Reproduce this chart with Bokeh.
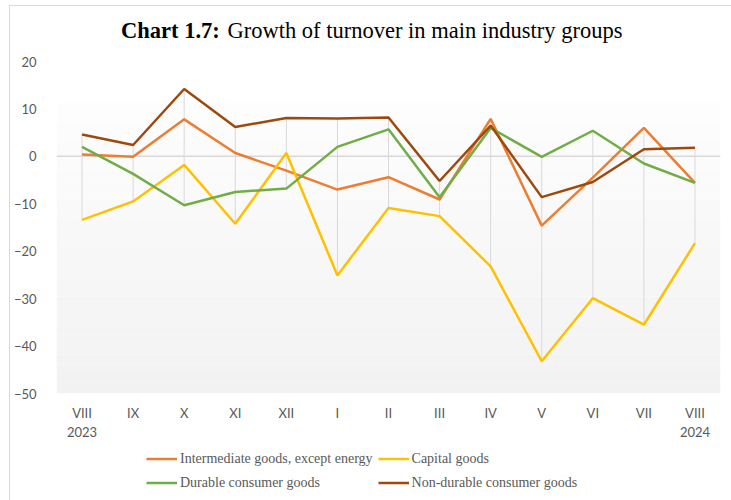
import numpy as np
from bokeh.plotting import figure
from bokeh.layouts import column
from bokeh.models import (Legend, LegendItem, Span, BoxAnnotation, Label,
                          FixedTicker, Range1d)
from bokeh.embed import file_html
from bokeh.resources import INLINE

months = ["VIII\n2023", "IX", "X", "XI", "XII", "I", "II", "III", "IV", "V",
          "VI", "VII", "VIII\n2024"]
intermediate = [0.4, -0.1, 7.8, 0.7, -3.0, -7.0, -4.4, -9.1, 7.9, -14.6, -4.5, 6.0, -5.6]
capital = [-13.4, -9.5, -1.8, -14.2, 0.7, -25.1, -10.9, -12.6, -23.2, -43.2, -29.9, -35.5, -18.3]
durable = [2.0, -3.7, -10.3, -7.5, -6.8, 2.0, 5.7, -8.6, 6.0, -0.1, 5.4, -1.5, -5.6]
nondurable = [4.6, 2.4, 14.2, 6.2, 8.1, 8.0, 8.2, -5.2, 6.5, -8.6, -5.4, 1.5, 1.8]

names = ["Intermediate goods, except energy", "Capital goods",
         "Durable consumer goods", "Non-durable consumer goods"]
series = [intermediate, capital, durable, nondurable]
colors = ["#ED7D31", "#FFC000", "#70AD47", "#9E480E"]
y_ticks = [-50, -40, -30, -20, -10, 0, 10, 20]

W = 721
BL, BR = 42, 11          # left / right borders shared by all strips
FW = W - BL - BR         # frame width in px

# ---- title strip ----
TH = 40
pt = figure(width=W, height=TH, x_range=Range1d(0, FW), y_range=Range1d(0, TH),
            output_backend="svg", toolbar_location=None,
            x_axis_location=None, y_axis_location=None,
            min_border_left=BL, min_border_right=BR, min_border_top=0,
            min_border_bottom=0)
pt.outline_line_color = None
pt.grid.visible = False
pt.add_layout(Label(x=65, y=16, text="Chart 1.7:", text_font="Liberation Serif",
                    text_font_size="22.5px", text_font_style="bold",
                    text_color="#000000", text_baseline="middle"))
pt.add_layout(Label(x=172, y=16, text="Growth of turnover in main industry groups",
                    text_font="Liberation Serif", text_font_size="22.5px",
                    text_color="#000000", text_baseline="middle"))

# ---- main chart ----
p = figure(width=W, height=399, x_range=months, y_range=(-50, 20),
           output_backend="svg", toolbar_location=None,
           min_border_left=BL, min_border_right=BR, min_border_top=15,
           min_border_bottom=52)
p.outline_line_color = None
p.background_fill_color = "#ffffff"
p.border_fill_color = "#ffffff"
p.grid.visible = False

edges = np.linspace(-50, 11.3, 31)
for i in range(30):
    t = i / 29.0
    c = int(round(0xf2 + (0xfd - 0xf2) * t))
    p.add_layout(BoxAnnotation(bottom=edges[i], top=edges[i + 1],
                               fill_color="#%02x%02x%02x" % (c, c, c),
                               fill_alpha=1.0, line_color=None, level="underlay"))

p.add_layout(Span(location=0, dimension="width", line_color="#d9d9d9",
                  line_width=1.5, level="underlay"))

highs = [max(v) for v in zip(*series)]
lows = [min(v) for v in zip(*series)]
p.segment(x0=months, y0=lows, x1=months, y1=highs, line_color="#d9d9d9", line_width=1)

for s, c in zip(series, colors):
    p.line(months, s, line_color=c, line_width=2.5)

yax = p.yaxis[0]
yax.ticker = FixedTicker(ticks=y_ticks)
yax.axis_line_color = None
yax.major_tick_line_color = None
yax.minor_tick_line_color = None
yax.major_label_standoff = 14
yax.major_label_text_font = "Lato"
yax.major_label_text_font_size = "13px"
yax.major_label_text_color = "#595959"

xax = p.xaxis[0]
xax.axis_line_color = None
xax.major_tick_line_color = None
xax.minor_tick_line_color = None
xax.major_label_standoff = 5
xax.major_label_text_font = "Lato"
xax.major_label_text_font_size = "13px"
xax.major_label_text_color = "#595959"

# ---- legend strip ----
pl = figure(width=W, height=55, x_range=Range1d(0, 1), y_range=Range1d(0, 1),
            output_backend="svg", toolbar_location=None,
            x_axis_location=None, y_axis_location=None,
            min_border_left=BL, min_border_right=BR, min_border_top=0,
            min_border_bottom=0)
pl.outline_line_color = None
pl.grid.visible = False
leg_r = [pl.line(x=[np.nan], y=[np.nan], line_color=c, line_width=2.5) for c in colors]
order = [0, 2, 1, 3]
items = [LegendItem(label=names[i], renderers=[leg_r[i]]) for i in order]
legend = Legend(items=items, orientation="vertical", ncols=2,
                location=(90, 8), padding=0, margin=0, spacing=5,
                label_standoff=3, glyph_width=31, glyph_height=19, label_height=19,
                label_width=150,
                label_text_font="Liberation Serif", label_text_font_size="14px",
                label_text_color="#595959", border_line_color=None,
                background_fill_alpha=0)
pl.add_layout(legend, "center")

layout = column(pt, p, pl, spacing=0)
layout.styles = {"border-top": "1px solid #d9d9d9", "border-left": "1px solid #d9d9d9",
                 "margin-left": "9px", "margin-top": "5px"}

open("out.html", "w").write(file_html(layout, INLINE))
